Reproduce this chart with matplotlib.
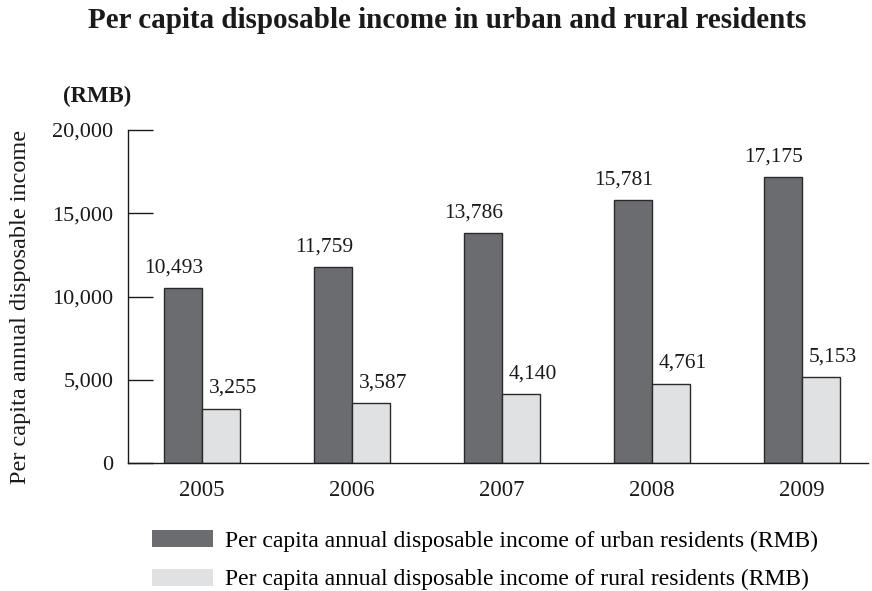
import matplotlib.pyplot as plt
import numpy as np

plt.rcParams['font.family'] = ['Liberation Serif', 'DejaVu Serif']

years = ["2005", "2006", "2007", "2008", "2009"]
urban = [10493, 11759, 13786, 15781, 17175]
rural = [3255, 3587, 4140, 4761, 5153]
urban_label = "Per capita annual disposable income of urban residents (RMB)"
rural_label = "Per capita annual disposable income of rural residents (RMB)"

ink = "#1a1a1a"

fig = plt.figure(figsize=(8.72, 5.91), dpi=100)
ax = fig.add_axes([128/872, 1-463/591, (868-128)/872, (463-130)/591])

x = np.arange(len(years))
w = 0.253
b1 = ax.bar(x - w/2, urban, w, color="#6b6c70", edgecolor="#2a2a2a", linewidth=1.0,
            label=urban_label)
b2 = ax.bar(x + w/2, rural, w, color="#e0e1e3", edgecolor="#2a2a2a", linewidth=1.0,
            label=rural_label)

# value labels sit a little outward from each bar's centre
for xi, v in zip(x - w/2, urban):
    ax.text(xi - 0.06, v + 650, f"{v:,}", ha="center", va="bottom", fontsize=15.5, color=ink)
for xi, v in zip(x + w/2, rural):
    ax.text(xi + 0.08, v + 650, f"{v:,}", ha="center", va="bottom", fontsize=15.5, color=ink)

ax.set_xlim(-0.493, 4.44)
ax.set_ylim(0, 20000)
ticks = [0, 5000, 10000, 15000, 20000]
ax.set_yticks(ticks)
ax.set_yticklabels([f"{t:,}" for t in ticks])
ax.set_xticks(x)
ax.set_xticklabels(years)
ax.tick_params(axis="y", direction="in", length=18, width=1.0, labelsize=16,
               pad=10.5, colors=ink)
ax.tick_params(axis="x", length=0, labelsize=16.5, pad=12, colors=ink)
for s in ["top", "right"]:
    ax.spines[s].set_visible(False)
for s in ["left", "bottom"]:
    ax.spines[s].set_color(ink)
    ax.spines[s].set_linewidth(1.0)

ax.set_ylabel("Per capita annual disposable income", fontsize=17.5, color=ink)
ax.yaxis.set_label_coords(-0.131, 0.47)

fig.text(97/872, 1-96/591, "(RMB)", fontsize=16.5, fontweight="bold", ha="center",
         va="center", color=ink)
fig.text(447/872, 1-20/591, "Per capita disposable income in urban and rural residents",
         fontsize=21, fontweight="bold", ha="center", va="center", color=ink)

fig.legend(handles=[b1, b2], loc="upper left", bbox_to_anchor=(152/872, 1-530/591),
           frameon=False, fontsize=17, handlelength=2.6, handleheight=0.72,
           labelspacing=0.72, handletextpad=0.5, borderaxespad=0, borderpad=0)
for h in fig.legends[0].legend_handles:
    h.set_edgecolor("none")

fig.savefig("out.png", dpi=100)
